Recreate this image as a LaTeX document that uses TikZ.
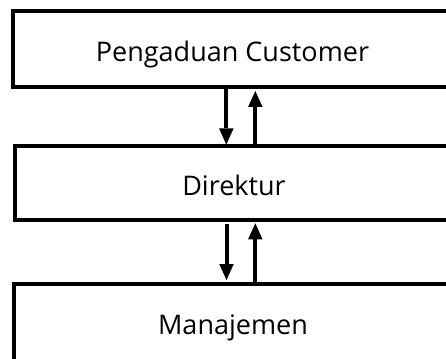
\documentclass[tikz,border=0pt]{standalone}
\usepackage{fontspec}
\setmainfont{Open Sans}
\usetikzlibrary{arrows.meta}
\begin{document}
\begin{tikzpicture}[x=1pt,y=-1pt,
  box/.style={draw, line width=4pt, outer sep=0pt, inner sep=0pt,
    minimum width=438.6pt, text height=25pt, text depth=0pt,
    font=\fontsize{27}{32}\selectfont},
  arr/.style={line width=4pt, -{Triangle[width=14.5pt,length=16pt,line width=0pt]}}]
\useasboundingbox (0,0) rectangle (446,358);
\clip (0,0) rectangle (446,358);
\node[box, minimum height=75.7pt] (top) at (232.5,49.15) {Pengaduan Customer};
\node[box, minimum height=74.8pt] (mid) at (234,182.9) {Direktur};
\node[box, minimum height=76.5pt] (bot) at (233,322.25) {Manajemen};
% arrows between top and mid
\draw[arr, shorten >=1pt] ([xshift=-6.2pt]top.south) -- ([xshift=-6.2pt]top.south |- mid.north);
\draw[arr, shorten >=4pt] ([xshift=21.3pt]mid.north) -- ([xshift=21.3pt]mid.north |- top.south);
% arrows between mid and bot
\draw[arr, shorten <=4pt, shorten >=4pt] ([xshift=-7.5pt]mid.south) -- ([xshift=-7.5pt]mid.south |- bot.north);
\draw[arr, shorten <=1pt, shorten >=3pt] ([xshift=22.3pt]bot.north) -- ([xshift=22.3pt]bot.north |- mid.south);
\end{tikzpicture}
\end{document}
